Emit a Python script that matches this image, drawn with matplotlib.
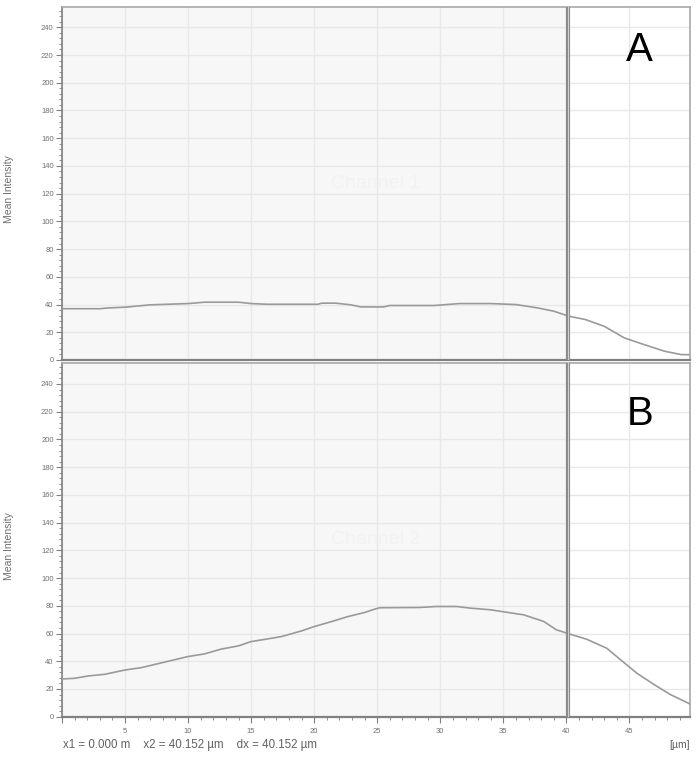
import matplotlib
matplotlib.use("Agg")
import matplotlib.pyplot as plt
from matplotlib.ticker import MultipleLocator

plt.rcParams['font.family'] = ['Liberation Sans', 'DejaVu Sans']

# Channel 1 profile
x1 = [0, 1, 2, 3, 3.6, 5, 7, 10, 11.3, 14, 15, 16.3, 20.3, 20.6, 21.7, 22.9, 23.7, 24.4,
      25.5, 26, 29.5, 31.5, 34, 36, 37.7, 39, 40.2, 41.5, 43, 44.6, 46.2, 47.8, 49.1, 49.8]
y1 = [37, 37, 37, 37, 37.5, 38.1, 39.8, 40.7, 41.7, 41.7, 40.7, 40.2, 40.2, 41, 41, 39.8, 38.3, 38.3,
      38.3, 39.3, 39.3, 40.7, 40.7, 40, 37.6, 35.2, 31.6, 29.2, 24.3, 15.9, 11, 6.3, 3.9, 3.8]

# Channel 2 profile
x2 = [0, 1, 2.1, 3.4, 5, 6.3, 7.4, 10, 11.3, 12.6, 14, 15, 16.3, 17.4, 19, 20, 21.4, 22.7, 24,
      24.8, 25.2, 28.4, 29.7, 31.3, 32.4, 34, 35, 36.6, 38.2, 39.2, 40.3, 41.6, 43.2, 44.3, 45.6,
      47, 48.3, 49.8]
y2 = [27.2, 27.7, 29.4, 30.6, 33.7, 35.4, 37.8, 43.4, 45.3, 48.7, 51.1, 54.2, 56.1, 57.8, 61.9,
      65, 68.7, 72.3, 75.2, 77.6, 78.6, 78.8, 79.5, 79.5, 78.3, 77.1, 75.7, 73.5, 68.7, 62.7, 59.5,
      55.9, 49.4, 41, 31.3, 22.9, 15.7, 9.2]

cursor_x2 = 40.152
panel_letters = ['A', 'B']
channel_names = ['Channel 1', 'Channel 2']
xmax = 49.8
ymax = 255

fig = plt.figure(figsize=(7, 7.64), dpi=100)
W, H = 700, 764
ax_top = fig.add_axes([62 / W, 1 - 360 / H, 628 / W, 353.5 / H])
ax_bot = fig.add_axes([62 / W, 1 - 716.7 / H, 628 / W, 353.5 / H])

frame_col = '#a8a8a8'
grid_col = '#e8e8e8'
line_col = '#9a9a9a'

for ax, xs, ys, letter, chan, ly in zip([ax_top, ax_bot], [x1, x2], [y1, y2],
                                         panel_letters, channel_names, [0.878, 0.857]):
    ax.set_xlim(0, xmax)
    ax.set_ylim(0, ymax)
    ax.set_facecolor('white')
    ax.axvspan(0, cursor_x2, color='#f7f7f7', zorder=0)
    ax.xaxis.set_major_locator(MultipleLocator(5))
    ax.xaxis.set_minor_locator(MultipleLocator(1))
    ax.yaxis.set_major_locator(MultipleLocator(20))
    ax.yaxis.set_minor_locator(MultipleLocator(4))
    ax.grid(True, which='major', color=grid_col, lw=1.0, zorder=1)
    ax.set_axisbelow(True)
    for s in ax.spines.values():
        s.set_color(frame_col)
        s.set_linewidth(1.2)
    ax.spines['left'].set_color('#808080')
    ax.spines['bottom'].set_color('#808080')
    ax.spines['bottom'].set_linewidth(1.6)
    ax.tick_params(axis='y', which='major', direction='out', length=4, width=0.8,
                   color='#808080', labelsize=5.5, labelcolor='#707070', pad=2)
    ax.tick_params(axis='y', which='minor', direction='out', length=2, width=0.6,
                   color='#808080')
    ax.plot(xs, ys, color=line_col, lw=1.2, zorder=3)
    ax.axvline(cursor_x2, color='#8a8a8a', lw=3.0, zorder=4)
    ax.axvline(cursor_x2, color='#d0d0d0', lw=0.8, zorder=5)
    ax.text(0.5, 0.5, chan, transform=ax.transAxes, ha='center', va='center',
            fontsize=14, color='#f2f2f2', zorder=2)
    ax.text(0.92, ly, letter, transform=ax.transAxes, ha='center', va='center',
            fontsize=29, color='black', zorder=6)
    ylab_y = (ax.get_position().y0 + ax.get_position().y1) / 2 - 6 / H
    fig.text(9 / W, ylab_y, 'Mean Intensity', rotation=90, ha='center', va='center',
             fontsize=7.5, color='#707070')

ax_top.tick_params(axis='x', which='both', bottom=False, labelbottom=False)
ax_bot.tick_params(axis='x', which='major', direction='out', length=4, width=0.8,
                   color='#808080', labelsize=5.5, labelcolor='#707070', pad=4)
ax_bot.tick_params(axis='x', which='minor', direction='out', length=2.5, width=0.6,
                   color='#808080')
xt = list(range(0, 50, 5))
ax_bot.set_xticks(xt)
ax_bot.set_xticklabels([''] + [str(v) for v in xt[1:]])

fig.text(63 / W, 1 - 745 / H,
         'x1 = 0.000 m    x2 = 40.152 \u00b5m    dx = 40.152 \u00b5m',
         ha='left', va='center', fontsize=8.3, color='#606060')
fig.text(690 / W, 1 - 745 / H, '[\u00b5m]', ha='right', va='center',
         fontsize=7.5, color='#606060')

fig.savefig('out.png', dpi=100)
